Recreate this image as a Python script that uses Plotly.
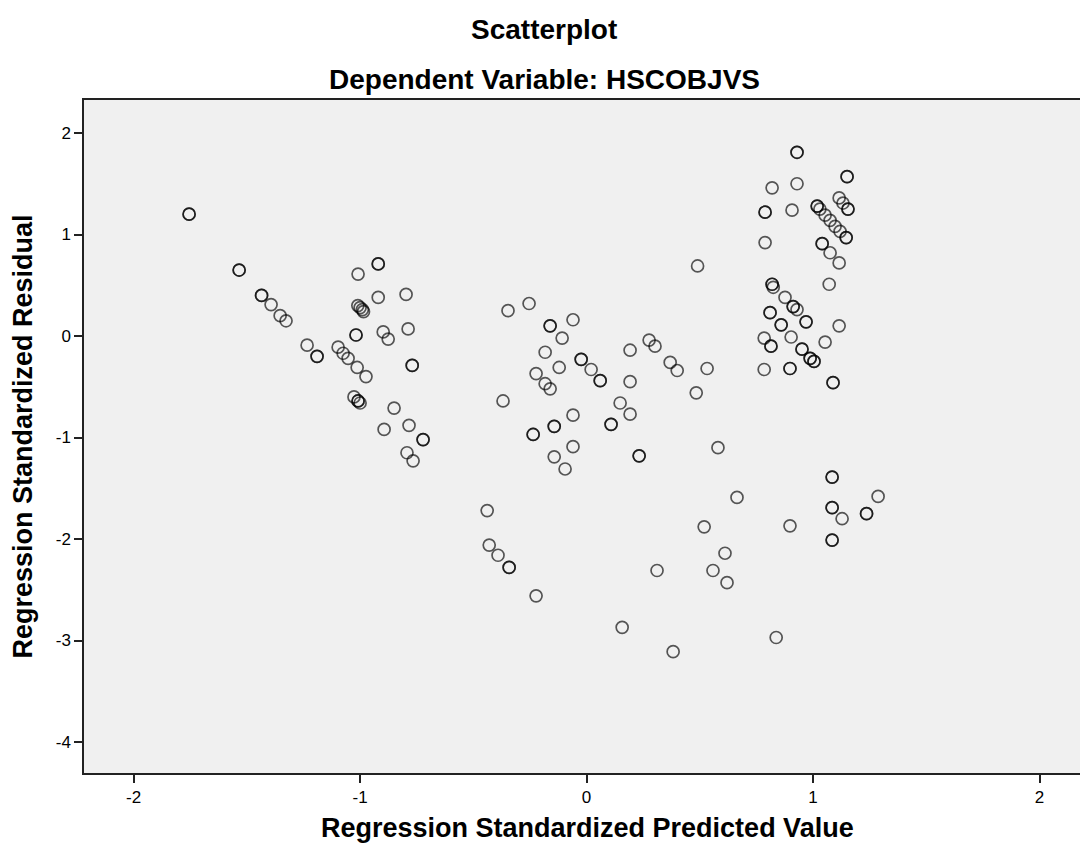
import plotly.graph_objects as go

# Regression Standardized Predicted Value (x) and Residual (y); repeated pairs are overlapping cases
pred_left = [-1.755, -1.755, -1.534, -1.534, -1.435, -1.435, -1.393, -1.353, -1.327, -1.234,
             -1.19, -1.19, -1.097, -1.075, -1.053, -1.013, -0.974, -1.009, -0.92, -0.92,
             -0.92, -0.797, -1.01, -1.00, -0.99, -0.985, -1.018, -1.018, -0.898, -0.876,
             -0.788, -0.77, -0.77, -1.027, -1.009, -1.009, -1.0, -0.85, -0.784, -0.894,
             -0.722, -0.722, -0.793, -0.766]
resid_left = [1.20, 1.20, 0.65, 0.65, 0.40, 0.40, 0.31, 0.20, 0.15, -0.09,
              -0.20, -0.20, -0.11, -0.17, -0.22, -0.31, -0.40, 0.61, 0.71, 0.71,
              0.38, 0.41, 0.30, 0.28, 0.26, 0.24, 0.01, 0.01, 0.04, -0.03,
              0.07, -0.29, -0.29, -0.60, -0.64, -0.64, -0.66, -0.71, -0.88, -0.92,
              -1.02, -1.02, -1.15, -1.23]

pred_mid = [-0.347, -0.254, -0.161, -0.161, -0.060, -0.108, -0.183, -0.121, -0.223, -0.183,
            -0.161, -0.369, -0.024, -0.024, 0.020, 0.060, 0.060, 0.192, 0.192, 0.276,
            0.302, 0.369, 0.400, 0.532, 0.484, 0.148, 0.192, 0.108, 0.108, -0.060,
            -0.143, -0.143, -0.236, -0.236, -0.060, -0.143, -0.095, 0.232, 0.232, 0.49,
            -0.439, -0.430, -0.391, -0.342, -0.342, -0.223, 0.157, 0.382, 0.311, 0.519,
            0.558, 0.611, 0.620, 0.664, 0.58]
resid_mid = [0.25, 0.32, 0.10, 0.10, 0.16, -0.02, -0.16, -0.31, -0.37, -0.47,
             -0.52, -0.64, -0.23, -0.23, -0.33, -0.44, -0.44, -0.14, -0.45, -0.04,
             -0.10, -0.26, -0.34, -0.32, -0.56, -0.66, -0.77, -0.87, -0.87, -0.78,
             -0.89, -0.89, -0.97, -0.97, -1.09, -1.19, -1.31, -1.18, -1.18, 0.69,
             -1.72, -2.06, -2.16, -2.28, -2.28, -2.56, -2.87, -3.11, -2.31, -1.88,
             -2.31, -2.14, -2.43, -1.59, -1.10]

pred_right = [0.929, 0.929, 1.150, 1.150, 0.819, 0.929, 0.788, 0.788, 0.907, 0.788,
              1.018, 1.018, 1.030, 1.053, 1.075, 1.097, 1.119, 1.146, 1.146, 1.115,
              1.132, 1.154, 1.154, 1.040, 1.040, 1.075, 1.115, 1.071, 0.819, 0.819,
              0.824, 0.876, 0.912, 0.912, 0.929, 0.810, 0.810, 0.859, 0.859, 0.969,
              0.969, 0.784, 0.814, 0.814, 0.903, 0.951, 0.951, 0.987, 0.987, 1.004,
              1.004, 0.784, 0.898, 0.898, 1.053, 1.115, 1.088, 1.088, 1.084, 1.084,
              1.287, 1.084, 1.084, 1.128, 1.236, 1.236, 0.898, 1.084, 1.084, 0.837]
resid_right = [1.81, 1.81, 1.57, 1.57, 1.46, 1.50, 1.22, 1.22, 1.24, 0.92,
               1.28, 1.28, 1.25, 1.19, 1.14, 1.08, 1.03, 0.97, 0.97, 1.36,
               1.31, 1.25, 1.25, 0.91, 0.91, 0.82, 0.72, 0.51, 0.51, 0.51,
               0.48, 0.38, 0.29, 0.29, 0.26, 0.23, 0.23, 0.11, 0.11, 0.14,
               0.14, -0.02, -0.10, -0.10, -0.01, -0.13, -0.13, -0.22, -0.22, -0.25,
               -0.25, -0.33, -0.32, -0.32, -0.06, 0.10, -0.46, -0.46, -1.39, -1.39,
               -1.58, -1.69, -1.69, -1.80, -1.75, -1.75, -1.87, -2.01, -2.01, -2.97]

x_ticks = [-2, -1, 0, 1, 2]
y_ticks = [-4, -3, -2, -1, 0, 1, 2]

title_main = "Scatterplot"
title_sub = "Dependent Variable: HSCOBJVS"
x_title = "Regression Standardized Predicted Value"
y_title = "Regression Standardized Residual"

x_all = pred_left + pred_mid + pred_right
y_all = resid_left + resid_mid + resid_right

W, H = 1088, 860
L, R, T, B = 76, 0, 92, 95   # page body adds 8px offset

fig = go.Figure()
fig.add_trace(go.Scatter(
    x=x_all, y=y_all, mode="markers",
    marker=dict(symbol="circle-open", size=12, color="rgba(0,0,0,0.65)",
                line=dict(width=1.7, color="rgba(0,0,0,0.65)")),
    showlegend=False, hoverinfo="x+y"))

font_family = "Liberation Sans, Arial, sans-serif"
pw = W - L - R
ppu = 226.5
x_lo = -2.219
x_hi = x_lo + pw / ppu
fig.update_layout(
    width=W, height=H,
    margin=dict(l=L, r=R, t=T, b=B),
    paper_bgcolor="white", plot_bgcolor="#F0F0F0",
    font=dict(family=font_family, color="black"),
    xaxis=dict(range=[x_lo, x_hi], tickvals=x_ticks, ticktext=[str(v) for v in x_ticks],
               showgrid=False, zeroline=False, showline=True, linecolor="#222222", linewidth=1.5,
               mirror=True, ticks="outside", ticklen=8, tickwidth=1.5, tickcolor="#222222",
               tickfont=dict(size=17, family=font_family, color="black")),
    yaxis=dict(range=[-4.305, 2.325], tickvals=y_ticks, ticktext=[str(v) for v in y_ticks],
               showgrid=False, zeroline=False, showline=True, linecolor="#222222", linewidth=1.5,
               ticks="outside", ticklen=8, tickwidth=1.5, tickcolor="#222222",
               tickfont=dict(size=17, family=font_family, color="black")),
)

cx = (536 - L) / pw
bold = dict(family=font_family, size=28, color="black")
fig.add_annotation(text="<b>%s</b>" % title_main, xref="paper", yref="paper", x=cx, y=1,
                   xanchor="center", yanchor="middle", yshift=71, showarrow=False, font=bold)
fig.add_annotation(text="<b>%s</b>" % title_sub, xref="paper", yref="paper", x=cx, y=1,
                   xanchor="center", yanchor="middle", yshift=21, showarrow=False, font=bold)
axis_font = dict(family=font_family, size=27, color="black")
fig.add_annotation(text="<b>%s</b>" % x_title, xref="paper", yref="paper", x=(579 - L) / pw, y=0,
                   xanchor="center", yanchor="middle", yshift=-55, showarrow=False, font=axis_font)
fig.add_annotation(text="<b>%s</b>" % y_title, xref="paper", yref="paper", x=0, y=0.5,
                   xanchor="center", yanchor="middle", xshift=-62, textangle=-90,
                   showarrow=False, font=axis_font)

fig.write_html("out.html")
